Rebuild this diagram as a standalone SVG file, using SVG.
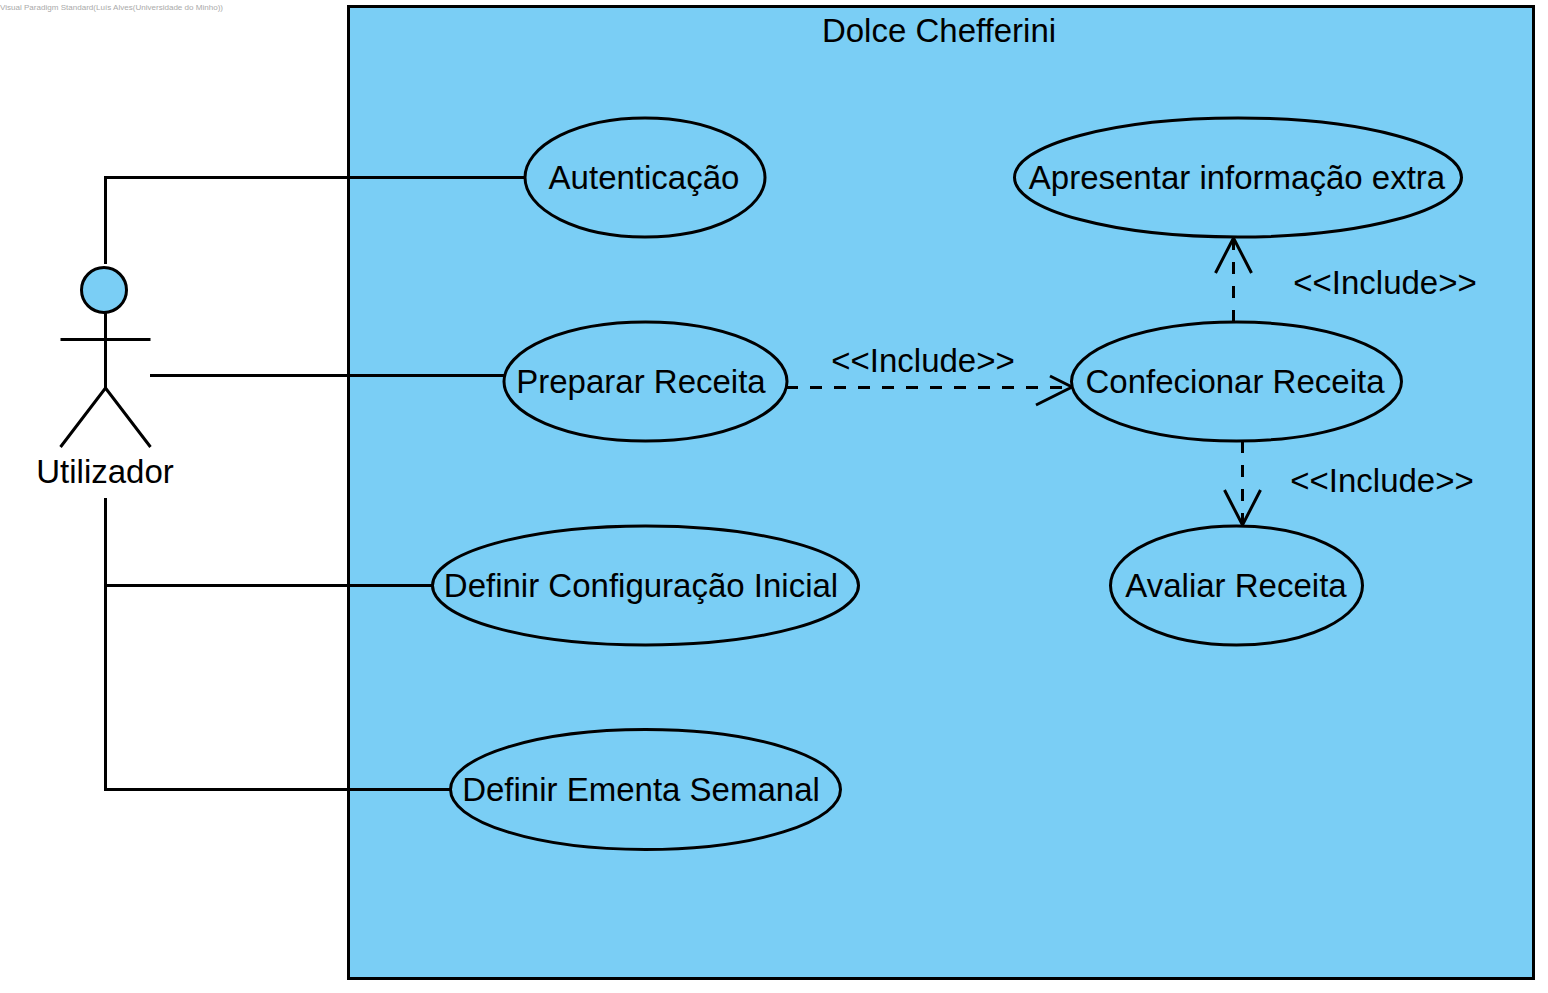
<svg xmlns="http://www.w3.org/2000/svg" width="1548" height="993" viewBox="0 0 1548 993">
<style>
text{font-family:"Liberation Sans",Arial,sans-serif;font-size:33px;fill:#000;text-anchor:middle}
.s{fill:none;stroke:#000;stroke-width:3}
.f{fill:#7acef5;stroke:#000;stroke-width:3}
.d{stroke-dasharray:12 12}
</style>
<rect width="1548" height="993" fill="#fff"/>
<text x="0" y="10" style="font-size:8.05px;fill:#aaa;text-anchor:start">Visual Paradigm Standard(Luís Alves(Universidade do Minho))</text>
<g id="system"><rect class="f" x="348.500" y="6.500" width="1185" height="972"/><text x="939" y="42">Dolce Chefferini</text></g>
<g id="connectors">
<path class="s" d="M105.500 264V177.500H525M150 375.500H504M105.500 498V789.500H450M105.500 585.500H432"/>
<path class="s d" d="M786 387.500H1071M1233.500 322V238M1242.500 441V525"/>
<path class="s" d="M1036 405L1072 387L1050 376M1215.500 273L1233.500 238L1251.500 273M1224.500 490L1242.500 525L1260.500 490"/>
<text x="923" y="372">&lt;&lt;Include&gt;&gt;</text>
<text x="1385" y="294">&lt;&lt;Include&gt;&gt;</text>
<text x="1382" y="492">&lt;&lt;Include&gt;&gt;</text>
</g>
<g id="actor"><circle class="f" cx="104" cy="290" r="22.500"/><path class="s" d="M105.500 313V388M60.500 339.500H150.500M60.500 447L105.500 388L150.500 447"/><text x="105" y="483">Utilizador</text></g>
<g id="autenticacao"><ellipse class="f" cx="645" cy="177.500" rx="120" ry="59.500"/><text x="644" y="189">Autenticação</text></g>
<g id="preparar"><ellipse class="f" cx="645.500" cy="381.500" rx="141.500" ry="59.500"/><text x="641" y="393">Preparar Receita</text></g>
<g id="definir-config"><ellipse class="f" cx="645.500" cy="585.500" rx="213" ry="59.500"/><text x="641" y="597">Definir Configuração Inicial</text></g>
<g id="definir-ementa"><ellipse class="f" cx="645.500" cy="789.500" rx="195" ry="60"/><text x="641" y="801">Definir Ementa Semanal</text></g>
<g id="apresentar"><ellipse class="f" cx="1238" cy="177.500" rx="223.500" ry="59.500"/><text x="1237" y="189">Apresentar informação extra</text></g>
<g id="confecionar"><ellipse class="f" cx="1236.500" cy="381.500" rx="165" ry="59.500"/><text x="1235" y="393">Confecionar Receita</text></g>
<g id="avaliar"><ellipse class="f" cx="1236.500" cy="585.500" rx="126" ry="59.500"/><text x="1236" y="597">Avaliar Receita</text></g>
</svg>
